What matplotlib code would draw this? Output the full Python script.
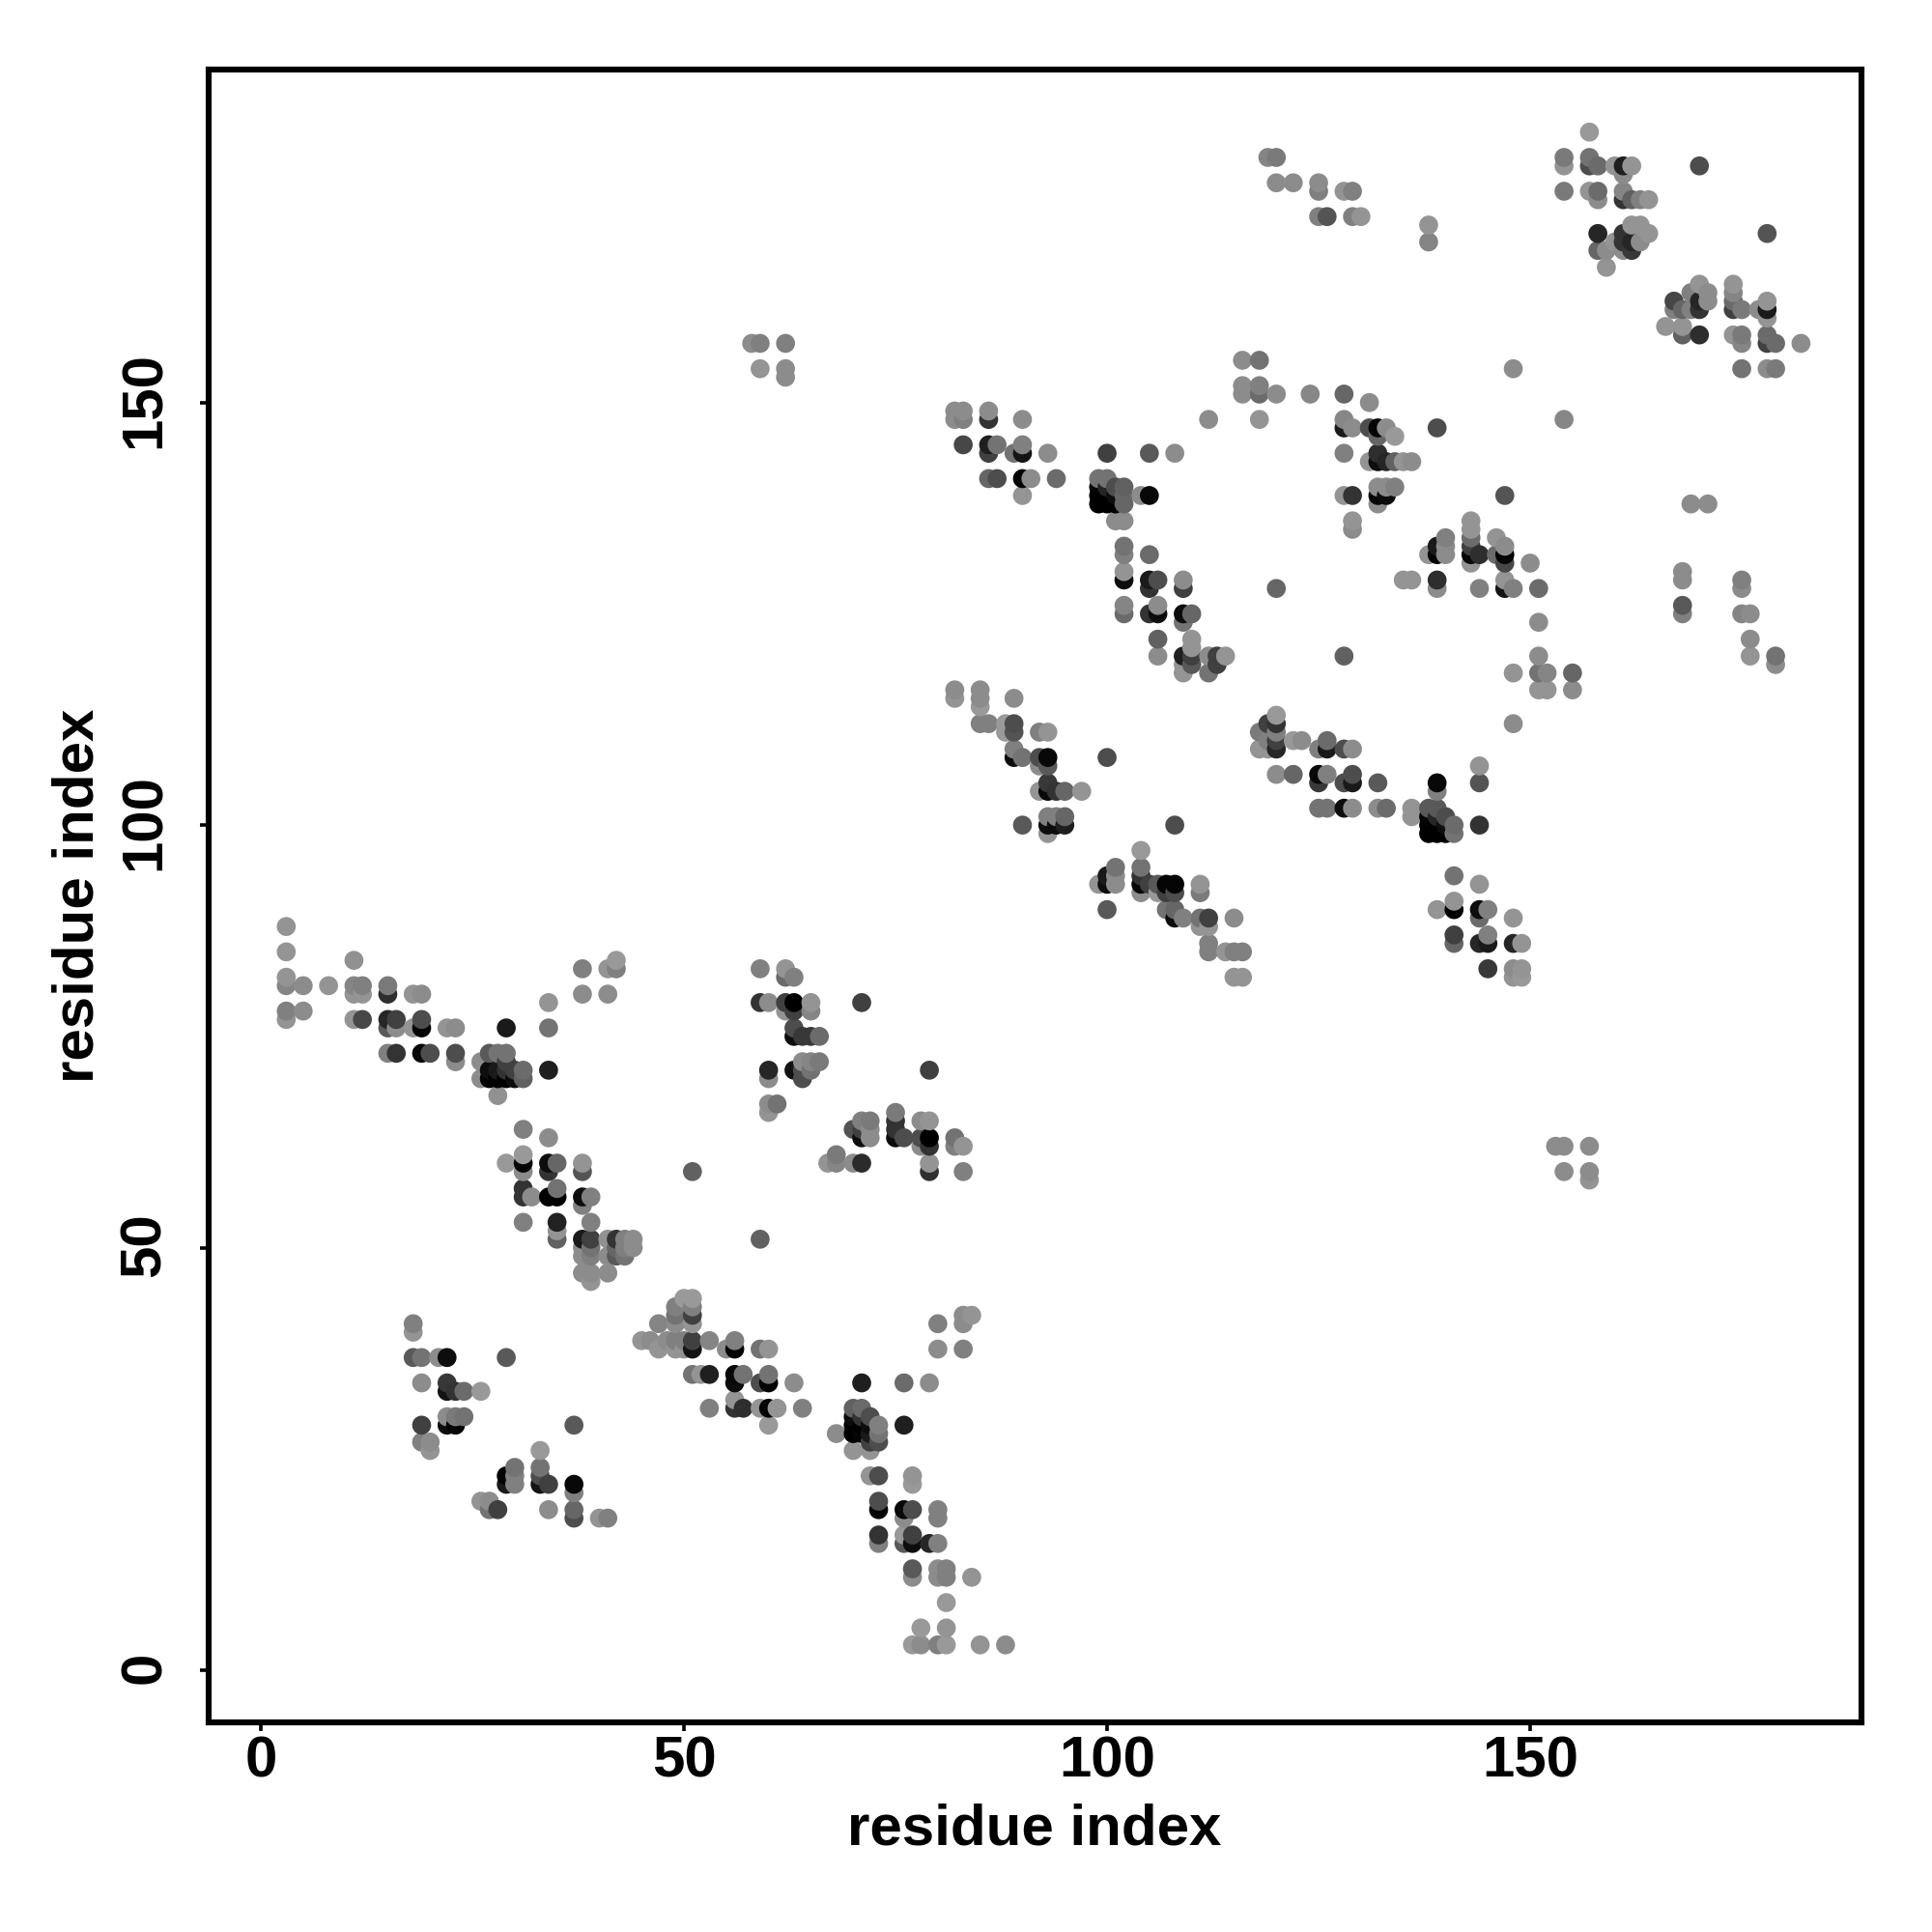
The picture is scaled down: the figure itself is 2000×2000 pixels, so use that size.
import numpy as np
import matplotlib
matplotlib.use("Agg")
import matplotlib.pyplot as plt
from matplotlib.transforms import ScaledTranslation

plt.rcParams['font.family'] = ['Liberation Sans', 'DejaVu Sans']

# contacts: (residue x, residue y, grey level)
block_a = [(3,88,.58),(3,85,.58),(3,82,.58),(3,81,.52),(5,81,.55),(8,81,.58),(11,84,.57),(11,81,.52),(12,81,.5),
           (11,80,.58),(12,80,.58),(15,80,.18),(15,81,.48),(18,80,.58),(19,80,.55),(3,78,.5),(3,77,.58),(5,78,.55),
           (11,77,.58),(12,77,.28),(15,77,.15),(15,76,.35),(16,76,.55),(16,77,.25),(18,76,.58),(19,76,.02),(19,77,.3),
           (22,76,.58),(23,76,.55),(15,73,.5),(16,73,.2),(19,73,.03),(20,73,.3),(23,72,.55),(23,73,.3),(26,72,.55),
           (26,70,.55),(27,73,.35),(27,71,.05),(28,73,.45),(29,73,.45),(28,68,.57),(27,70,0),(28,70,0),(29,70,0),
           (28,71,.1),(29,71,.2),(30,71,.25),(30,70,.05),(31,71,.42),(31,70,.38),(29,72,.25),(29,76,.1),(34,79,.58),
           (34,76,.45),(34,71,.12),(38,83,.5),(38,80,.55),(41,83,.58),(42,83,.5),(42,84,.6),(41,80,.55)]
block_b = [(31,64,.5),(34,63,.55),(29,60,.6),(31,61,.6),(31,60,.02),(31,59,.55),(34,60,.05),(34,59,.2),(35,60,.4),
           (38,60,.58),(38,59,.33),(31,57,.2),(31,56,.2),(32,56,.55),(34,56,0),(35,56,0),(35,57,.45),(38,56,.05),
           (39,56,.5),(38,55,.5),(31,53,.5),(35,53,.13),(35,52,.58),(35,51,.38),(39,53,.5),(38,51,.1),(39,51,.25),
           (41,51,.57),(42,51,.2),(43,51,.5),(44,51,.55),(38,50,.55),(39,50,.45),(38,49,.55),(39,49,.5),(41,49,.55),
           (42,49,.35),(43,49,.45),(44,50,.55),(38,47,.55),(39,47,.55),(41,47,.55),(39,46,.58),(42,50,.4),(43,50,.5)]
block_c = [(59,83,.5),(62,83,.58),(62,82,.42),(63,82,.5),(59,79,.2),(60,79,.55),(62,79,.25),(63,79,0),(65,79,.58),
           (62,78,.58),(63,78,.25),(65,78,.52),(71,79,.25),(63,76,.3),(63,75,.05),(64,75,.22),(65,75,.22),(66,75,.42),
           (60,71,.15),(60,70,.55),(63,71,.07),(64,70,.3),(64,71,.3),(64,72,.55),(65,71,.45),(65,72,.52),(66,72,.48),
           (60,67,.55),(60,66,.58),(61,67,.45),(79,71,.25),(67,60,.58),(68,60,.52),(68,61,.48),(70,60,.55),(71,60,.17),
           (70,64,.32),(71,63,.05),(71,64,.25),(71,65,.5),(72,65,.48),(72,64,.55),(72,63,.55),(75,66,.48),(75,65,.2),
           (75,64,.2),(75,63,.05),(76,63,.3),(78,65,.55),(79,65,.58),(78,63,.3),(78,62,.55),(79,63,0),(79,62,.2),
           (82,63,.45),(82,62,.5),(83,62,.58),(79,60,.58),(79,59,.18),(83,59,.5),(51,59,.38),(59,51,.38)]
block_d = [(18,41,.5),(18,40,.58),(18,37,.35),(19,37,.45),(21,37,.55),(22,37,.05),(29,37,.35),(19,34,.55),(22,34,.22),
           (22,33,.08),(23,33,.2),(24,33,.42),(26,33,.6),(22,30,.55),(23,30,.48),(24,30,.45),(22,29,.05),(23,29,.02),
           (19,29,.25),(37,29,.35),(19,27,.5),(20,27,.55),(20,26,.58),(33,26,.6),(33,24,.45),(33,23,.3),(33,22,.08),
           (34,22,.25),(30,24,.45),(30,23,.5),(30,22,.5),(29,23,.02),(29,22,.1),(37,22,.03),(37,21,.5),(26,20,.58),
           (27,20,.55),(27,19,.45),(28,19,.25),(34,19,.55),(37,19,.4),(37,18,.3),(40,18,.58),(41,18,.5)]
block_e = [(51,44,.6),(50,44,.6),(49,43,.5),(51,43,.5),(49,42,.45),(51,42,.25),(47,41,.52),(49,41,.55),(51,41,.58),
           (45,39,.58),(46,39,.55),(48,39,.55),(49,39,.5),(50,39,.5),(51,39,.25),(53,39,.52),(47,38,.58),(49,38,.58),
           (50,38,.58),(51,38,.08),(55,38,.55),(56,38,.02),(56,39,.5),(59,38,.45),(60,38,.58),(51,35,.45),(52,35,.58),
           (53,35,.12),(56,35,.03),(57,35,.45),(60,35,.45),(59,34,.3),(60,34,0),(63,34,.55),(56,34,.05),(71,34,.12),
           (76,34,.42),(79,34,.55),(53,31,.5),(56,31,.2),(57,31,.18),(59,31,.58),(60,31,.02),(61,31,.58),(64,31,.5),
           (56,32,.58),(60,29,.6),(70,31,.38),(71,31,.42),(70,30,.05),(71,30,.2),(72,30,.3),(70,29,0),(71,29,0),
           (72,29,.05),(73,29,.5),(68,28,.55),(70,28,0),(71,28,.02),(72,28,.1),(73,28,.45),(72,27,.25),(73,27,.3),
           (70,26,.58),(72,26,.58),(76,29,.12),
           (72,23,.58),(73,23,.3),(77,23,.58),(77,22,.6),(73,20,.3),(73,19,.02),(76,19,.03),(77,19,.3),(76,18,.55),
           (80,19,.5),(80,18,.5),(73,16,.2),(73,15,.5),(76,16,.6),(77,16,.25),(76,15,.35),(77,15,.05),(79,15,.15),
           (80,15,.5),(77,12,.35),(77,11,.55),(80,12,.55),(81,12,.5),(80,11,.55),(81,11,.5),(84,11,.58),(81,8,.6),
           (78,5,.6),(81,5,.58),(77,3,.6),(78,3,.55),(80,3,.5),(81,3,.6),(85,3,.58),(88,3,.55),(80,41,.5),(83,41,.55),
           (83,42,.55),(84,42,.58),(80,38,.55),(83,38,.5)]
block_f = [(82,116,.55),(82,115,.58),(85,116,.55),(85,115,.55),(85,114,.6),(89,115,.55),(85,112,.5),(86,112,.5),(88,112,.6),
           (89,112,.3),(88,111,.6),
           (89,111,.33),(92,111,.5),(93,111,.58),(89,109,.5),(90,108,.45),(89,108,.05),(92,108,.3),(93,108,.03),(93,107,.35),
           (92,107,.55),(100,108,.3),(93,105,.22),(93,104,.03),(92,104,.58),(94,104,.2),(95,104,.4),(97,104,.58),(90,100,.35),
           (93,101,.5),(94,101,.5),(95,101,.4),(93,100,.05),(94,100,.05),(95,100,.12),(93,99,.58),(108,100,.3),
           (104,97,.6),(99,93,.58),(100,94,.1),(100,93,.05),(101,95,.45),(101,94,.55),(101,93,.55),(100,90,.35),(104,95,.45),
           (104,94,.2),(105,93,.25),(104,93,.03),(104,92,.55),(106,93,.35),(107,93,.02),(108,93,.02),(107,92,.25),(108,92,.3),
           (106,92,.6),(111,93,.58),(111,92,.48),(107,90,.45),(108,90,.4),(108,89,.05),(109,89,.5),(111,89,.45),(112,89,.25),
           (111,88,.58),(112,88,.58),(115,89,.55),(112,86,.5),(112,85,.5),(114,85,.58),(115,85,.5),(116,85,.5),(115,82,.58),
           (116,82,.58)]
block_g = [(120,113,.6),(119,112,.25),(120,112,.2),(118,111,.48),(120,111,.5),(119,110,.5),(120,110,.25),(122,110,.6),
           (123,110,.55),(118,109,.58),(119,109,.58),(120,109,.15),(125,109,.5),(126,109,.1),(126,110,.42),(128,109,.3),
           (129,109,.55),(120,106,.55),(122,106,.4),(125,106,.03),(125,105,.22),(126,106,.5),(128,105,.3),(129,105,.1),
           (129,106,.3),(132,105,.35),(125,102,.45),(126,102,.45),(128,102,.05),(129,102,.55),(132,102,.55),(133,102,.42),
           (136,102,.58),(136,101,.58),(138,102,.35),(139,102,.35),(138,101,.02),(139,101,.15),(140,101,.3),(138,100,0),
           (139,100,0),(140,100,.05),(141,100,.42),(138,99,0),(139,99,0),(140,99,0),(141,99,.45),(139,105,.03),(139,104,.5),
           (144,107,.58),(144,105,.33),(144,100,.2),(141,94,.45),(144,93,.58),(139,90,.58),(141,91,.58),(141,90,0),(144,90,.05),
           (145,90,.5),(144,89,.42),(148,89,.58),(141,87,.25),(141,86,.4),(144,86,.15),(145,87,.5),(145,86,.1),(148,86,.15),
           (149,86,.58),(145,83,.22),(148,83,.55),(149,83,.58),(148,82,.58),(149,82,.6)]
block_h = [(116,155,.55),(118,155,.45),(116,152,.55),(118,152,.5),(116,151,.55),(118,151,.42),(120,151,.55),(124,151,.53),
           (128,151,.4),(131,150,.55),(148,154,.55),(112,148,.55),(118,148,.58),(154,148,.53),(128,148,.53),(128,147,.1),
           (129,147,.55),(131,147,.3),(132,147,.02),(133,147,.55),(134,146,.6),(132,146,.4),(139,147,.3),(128,144,.5),
           (132,144,.18),(131,143,.58),(132,143,.05),(133,143,.15),(134,143,.38),(135,143,.58),(136,143,.55),(132,140,.55),
           (133,140,.55),(134,140,.5),(128,139,.58),(129,139,.2),(132,139,.02),(133,139,.05),(132,138,.55),(147,139,.33),
           (129,136,.58),(129,135,.55),(99,141,.45),(100,141,.45),(99,140,.02),(100,140,.15),(101,140,.3),(99,139,0),(100,139,0),
           (101,139,.05),(102,140,.38),(102,139,.4),(99,138,0),(100,138,0),(101,138,0),(102,138,.4),(104,139,.55),(105,139,.03),
           (101,136,.55),(102,136,.55),(93,144,.55),(100,144,.25),(105,144,.35),(108,144,.55),(94,141,.42),(102,133,.45),
           (102,132,.5),(105,132,.42),(102,130,.58),(102,129,.05),(105,129,.1),(105,128,.2),(106,129,.3),(109,129,.55),(109,128,.25),
           (102,126,.52),(102,125,.42),(105,125,.2),(106,125,.05),(106,126,.55),(109,125,.05),(110,125,.4),(109,124,.45),(106,122,.38),
           (106,120,.55),(110,122,.58),(110,121,.58),(109,120,.12),(110,120,.25),(110,119,.35),(109,119,.58),(109,118,.58),(112,120,.55),
           (113,120,.25),(114,120,.58),(113,119,.25),(112,118,.45),(120,128,.4),(128,120,.38)]
block_i = [(135,129,.58),(136,129,.58),(139,129,.18),(139,128,.55),(144,128,.5),(147,128,.08),(148,128,.5),(147,129,.58),(151,128,.42),
           (140,134,.5),(139,133,.1),(138,132,.58),(139,132,.02),(140,133,.55),(140,132,.55),(143,136,.58),(143,135,.58),(143,134,.42),
           (143,133,.25),(143,132,.03),(144,132,.18),(143,131,.58),(146,134,.58),(146,132,.42),(147,133,.55),(147,132,.02),(147,131,.28),
           (150,131,.55),(151,124,.55),(151,120,.55),(148,118,.58),(151,118,.45),(152,118,.52),(155,118,.4),(151,116,.58),(152,116,.58),
           (155,116,.55),(148,112,.55)]
block_j = [(119,179,.52),(120,179,.48),(120,176,.55),(122,176,.55),(125,176,.55),(125,175,.5),(128,175,.58),(129,175,.5),(125,172,.5),
           (126,172,.33),(129,172,.5),(130,172,.58),(138,171,.58),(138,169,.52),(157,182,.6),(154,179,.48),(154,178,.58),(157,179,.45),
           (157,178,.3),(158,178,.42),(160,178,.58),(161,178,.12),(162,178,.58),(161,177,.55),(154,175,.48),(157,175,.58),(158,175,.42),
           (158,174,.55),(161,175,.52),(161,174,.2),(162,174,.38),(163,174,.5),(164,174,.58),(170,178,.3),(178,170,.33),(158,170,.15),
           (161,170,.2),(161,169,.2),(161,168,.55),(162,168,.22),(158,168,.4),(159,168,.55),(159,166,.58),(162,171,.58),(163,171,.58),
           (164,170,.58),(163,169,.55),(162,169,.15),(160,169,.58)]
block_k = [(170,164,.58),(171,163,.55),(171,162,.55),(169,163,.5),(167,162,.28),(167,161,.5),(168,161,.4),(169,161,.5),(170,162,.15),
           (170,161,.2),(166,159,.58),(168,159,.58),(168,158,.38),(170,158,.18),(174,164,.58),(174,163,.52),(174,162,.42),(174,161,.25),
           (175,161,.48),(177,161,.55),(178,162,.58),(178,161,.1),(178,160,.58),(174,158,.58),(175,158,.48),(175,157,.52),(178,158,.42),
           (178,157,.25),(179,157,.42),(182,157,.55),(175,154,.45),(178,154,.55),(179,154,.48)]
block_l = [(58,157,.55),(59,157,.5),(62,157,.5),(59,154,.58),(62,154,.55),(62,153,.55),(153,62,.55),(154,62,.55),(157,62,.55),
           (154,59,.55),(157,59,.55),(157,58,.58),(82,149,.55),(83,149,.55),(82,148,.55),(83,148,.5),(86,149,.55),(86,148,.2),(90,148,.55),
           (83,145,.28),(86,145,.12),(87,145,.45),(86,144,.25),(89,144,.45),(90,144,.08),(90,145,.5),(86,141,.4),(87,141,.3),
           (90,141,.02),(91,141,.55),(90,139,.58),(169,138,.55),(171,138,.55),(168,130,.55),(168,129,.55),(168,126,.35),(168,125,.5),
           (175,129,.5),(175,128,.55),(175,125,.52),(176,125,.55),(176,122,.55),(176,120,.58),(179,120,.45),(179,119,.55)]

ticks = [0, 50, 100, 150]

contacts = np.array(block_a + block_b + block_c + block_d + block_e + block_f + block_g
                    + block_h + block_i + block_j + block_k + block_l)
# drawn column by column, upwards, later points cover earlier ones
contacts = contacts[np.lexsort((contacts[:, 1], contacts[:, 0]))]

fig = plt.figure(figsize=(10, 10), dpi=200)
ax = fig.add_axes([216/2000, 1 - 1783/2000, (1927-216)/2000, (1783-72)/2000])
ax.scatter(contacts[:, 0], contacts[:, 1], s=50, c=[str(g) for g in contacts[:, 2]], linewidths=0, zorder=3)

ax.set_xlim(-6.17, 189.15)
ax.set_ylim(-6.17, 189.4)
ax.set_xticks(ticks)
ax.set_yticks(ticks)
for spine in ax.spines.values():
    spine.set_linewidth(2.2)
ax.tick_params(axis='x', length=3.4, width=1.3, labelsize=21.6, pad=1.3)
ax.tick_params(axis='y', length=3.4, width=1.3, labelsize=21.6, pad=10.3)
for lab in ax.get_xticklabels() + ax.get_yticklabels():
    lab.set_fontweight('bold')
for lab in ax.get_yticklabels():
    lab.set_rotation(90)
    lab.set_va('center')
    # nudge up a touch, R centres these slightly higher
    lab.set_transform(lab.get_transform() + ScaledTranslation(0, 3/200, fig.dpi_scale_trans))

fig.text(1071/2000, 1 - 1894/2000, 'residue index', ha='center', va='center', fontsize=21.6, fontweight='bold')
fig.text(81/2000, 1 - 927/2000, 'residue index', ha='center', va='center', rotation=90, fontsize=21.6, fontweight='bold')

fig.savefig('out.png', dpi=200)
